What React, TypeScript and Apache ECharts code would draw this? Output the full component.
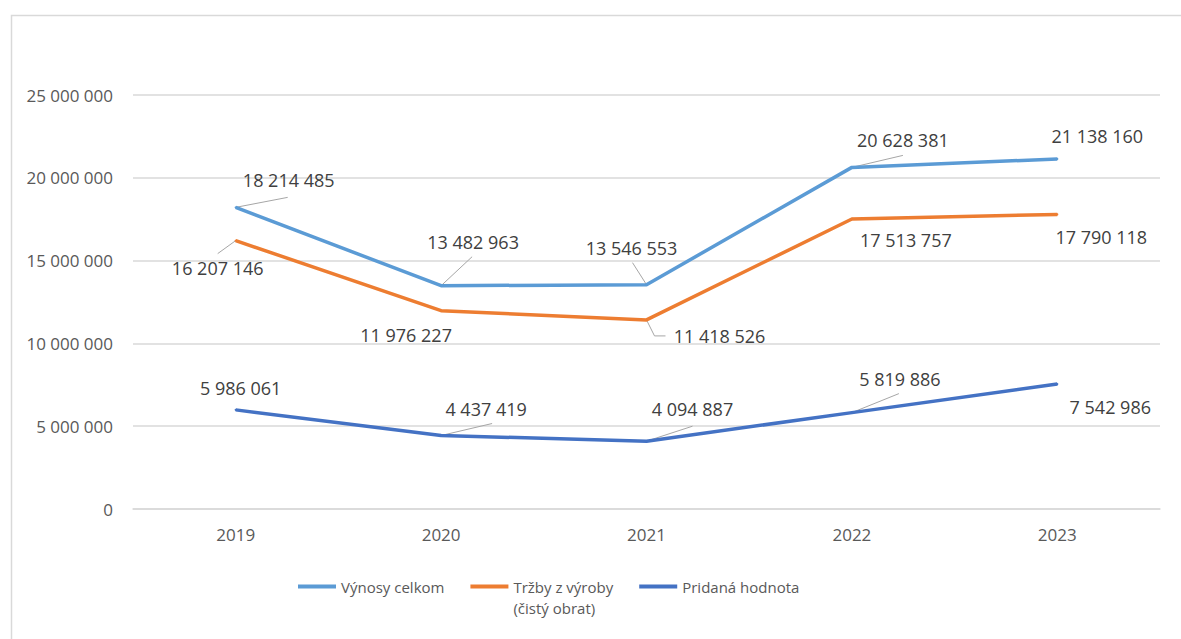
import React, { useEffect, useRef } from "react";
import * as echarts from "echarts";

const years = ["2019", "2020", "2021", "2022", "2023"];
const seriesNames = ["Výnosy celkom", "Tržby z výroby\n(čistý obrat)", "Pridaná hodnota"];
const vynosy = [18214485, 13482963, 13546553, 20628381, 21138160];
const trzby = [16207146, 11976227, 11418526, 17513757, 17790118];
const pridana = [5986061, 4437419, 4094887, 5819886, 7542986];
const yTicks = { min: 0, max: 25000000, interval: 5000000 };

const colors = ["#5B9BD5", "#ED7D31", "#4472C4"];

// label offsets (px) from data point to label centre, per series
const labelOffsets = [
  [[53, -27], [32, -44], [-15, -37], [51, -27], [40, -23]],
  [[-18, 27], [-35, 24], [73, 16], [54, 21], [44, 23]],
  [[5, -22], [45, -27], [46, -32], [48, -34], [53, 23]],
];
// leader line shapes (px, relative to the data point), null = no leader
const leaderPaths: (number[][] | null)[][] = [
  [[[0, 0], [52, -10]], [[0, 0], [31, -29]], [[0, 0], [-14, -22]], [[0, 0], [51, -12]], null],
  [[[0, 0], [-18, 13]], null, [[0, 0], [8, 16], [19, 16]], null, null],
  [null, [[0, 0], [51, -12]], [[0, 0], [46, -15]], [[0, 0], [47, -19]], null],
];

const fmt = (v: number) => String(v).replace(/\B(?=(\d{3})+(?!\d))/g, " ");
const FONT = "'Open Sans', sans-serif";

export default function App() {
  const ref = useRef<HTMLDivElement>(null);
  useEffect(() => {
    document.body.style.margin = "0";
    const chart = echarts.init(ref.current!, null, { renderer: "svg" });
    const allData = [vynosy, trzby, pridana];
    const lineSeries = allData.map((d, si) => ({
      name: seriesNames[si],
      type: "line",
      data: d,
      z: 3,
      symbol: "circle",
      symbolSize: 2,
      showSymbol: true,
      lineStyle: { color: colors[si], width: 3.5 },
      itemStyle: { color: colors[si] },
      label: {
        show: true,
        position: "inside",
        formatter: (p: any) => fmt(p.value),
        fontFamily: FONT,
        fontSize: 18,
        color: "#404040",
      },
      labelLayout: (p: any) => {
        const o = labelOffsets[si][p.dataIndex];
        return {
          x: p.rect.x + p.rect.width / 2 + o[0],
          y: p.rect.y + p.rect.height / 2 + o[1],
          align: "center",
          verticalAlign: "middle",
        };
      },
      emphasis: { disabled: true },
    }));
    const leaderSeries = allData.map((d, si) => ({
      name: "leader" + si,
      type: "custom",
      z: 2,
      silent: true,
      data: d.map((v, i) => [i, v]),
      renderItem: (params: any, api: any) => {
        const path = leaderPaths[si][params.dataIndex];
        if (!path) return { type: "group", children: [] };
        const c = api.coord([api.value(0), api.value(1)]);
        return {
          type: "polyline",
          shape: { points: path.map((p) => [c[0] + p[0], c[1] + p[1]]) },
          style: { stroke: "#a6a6a6", lineWidth: 1, fill: "none" },
        };
      },
    }));
    chart.setOption({
      animation: false,
      color: colors,
      graphic: [
        {
          type: "rect",
          left: 9,
          top: 13,
          shape: { width: 1300, height: 800 },
          style: { fill: "none", stroke: "#d9d9d9", lineWidth: 1.5 },
          silent: true,
        },
      ],
      grid: { left: 133, right: 21, top: 95, bottom: 130 },
      legend: {
        left: 293,
        top: 550,
        itemWidth: 38,
        itemHeight: 4,
        itemGap: 26,
        icon: "rect",
        formatter: (n: string) => (n === seriesNames[1] ? "\n" + n : n),
        textStyle: { fontFamily: FONT, fontSize: 15, color: "#595959", lineHeight: 21 },
        data: seriesNames,
      },
      xAxis: {
        type: "category",
        data: years,
        boundaryGap: true,
        axisLine: { lineStyle: { color: "#d9d9d9", width: 1.5 } },
        axisTick: { show: false },
        axisLabel: { fontFamily: FONT, fontSize: 17, color: "#595959", margin: 17 },
      },
      yAxis: {
        type: "value",
        min: yTicks.min,
        max: yTicks.max,
        interval: yTicks.interval,
        axisLine: { show: false },
        axisTick: { show: false },
        splitLine: { lineStyle: { color: "#d9d9d9", width: 1.5 } },
        axisLabel: {
          fontFamily: FONT,
          fontSize: 17,
          color: "#595959",
          margin: 20,
          formatter: (v: number) => fmt(v),
        },
      },
      series: [...leaderSeries, ...lineSeries],
    });
    return () => chart.dispose();
  }, []);
  return <div ref={ref} style={{ width: 1181, height: 639 }} />;
}
